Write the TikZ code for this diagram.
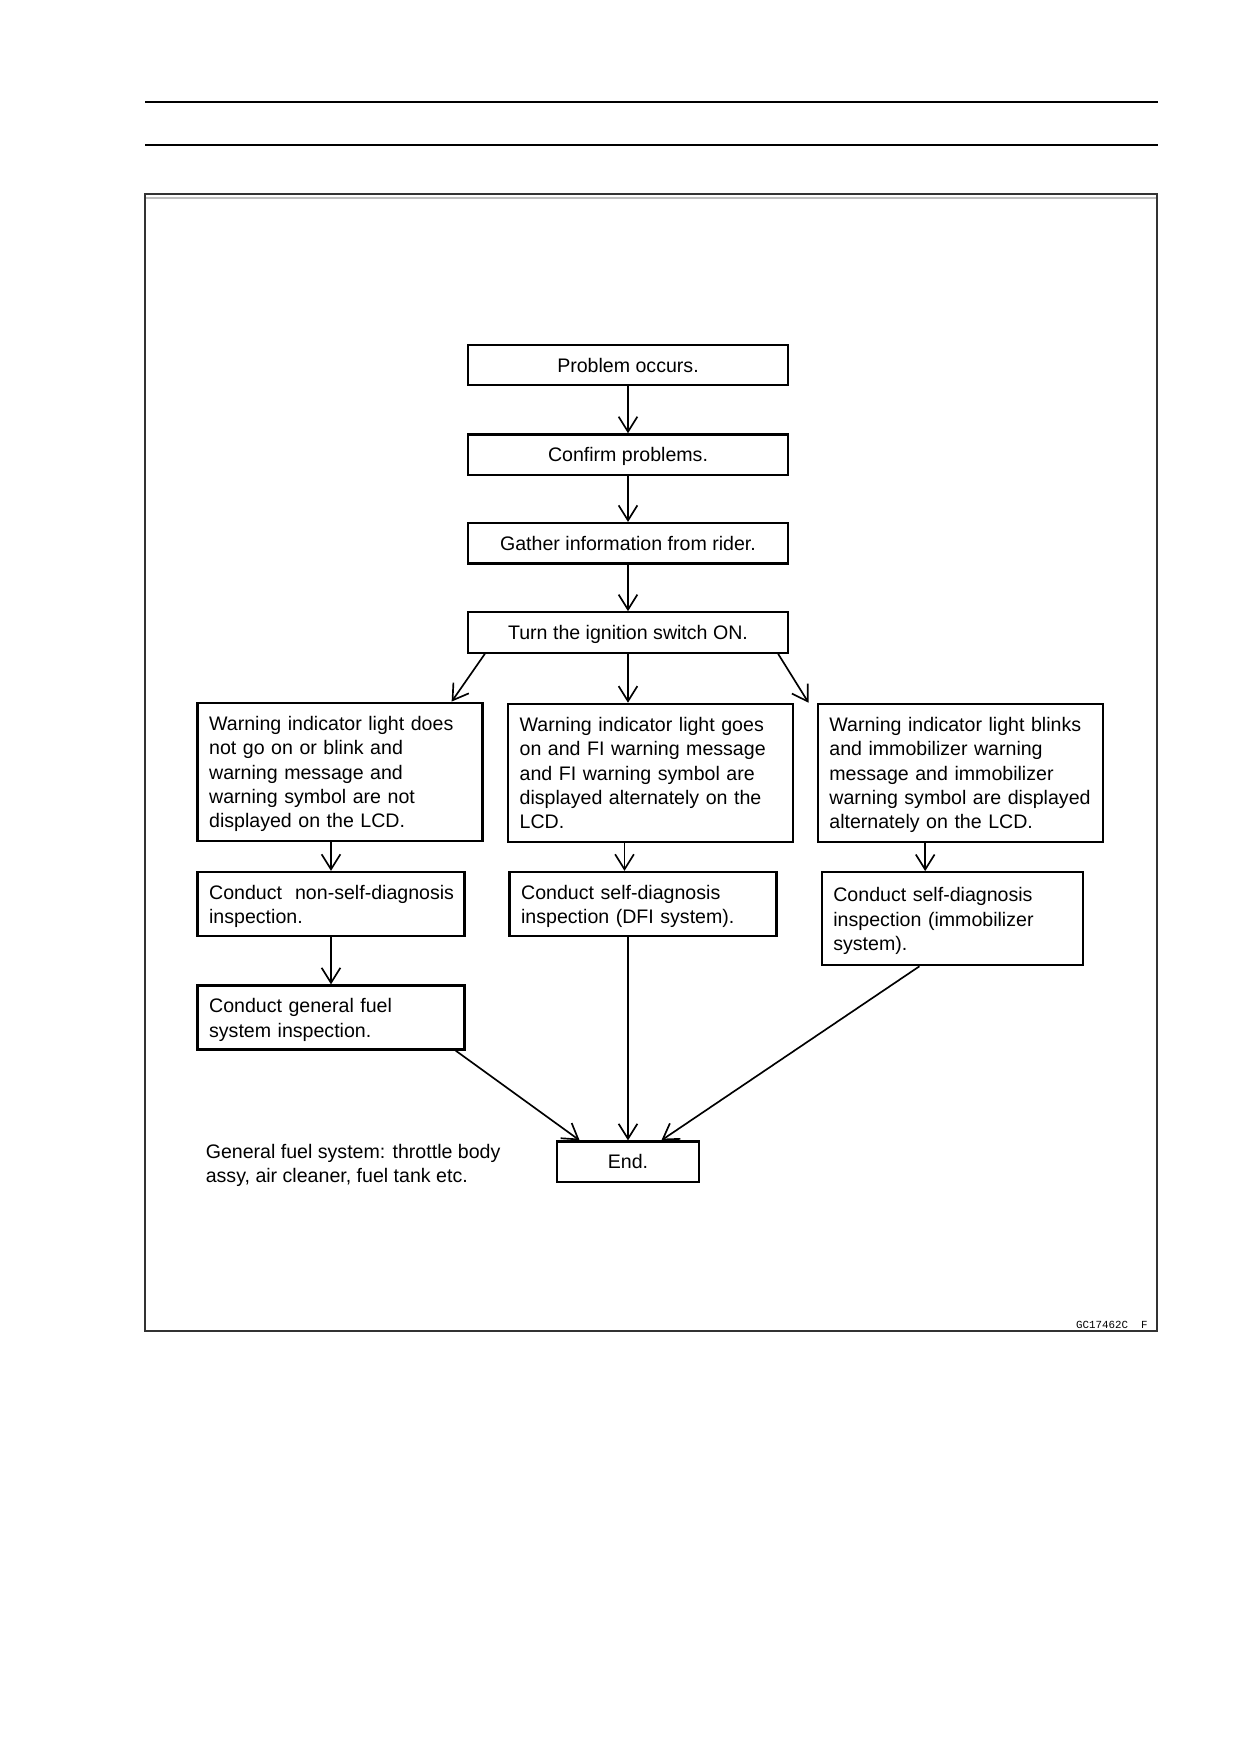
\documentclass[tikz,border=0pt]{standalone}
\usepackage{fontspec}
\setmainfont{Liberation Sans}
\newfontfamily\codefont{Liberation Mono}
\usetikzlibrary{arrows.meta,calc}
\newcommand{\boxlines}[1]{\raisebox{-1.2pt}[\height][\depth]{\begin{tabular}{@{}l@{}}#1\end{tabular}}}
\begin{document}
\begin{tikzpicture}[x=0.48pt,y=-0.48pt,
  basefont/.style={font=\fontsize{9.4pt}{11.7pt}\selectfont},
  box/.style={draw,line width=1.1pt,inner sep=0pt,basefont},
  topbox/.style={box,minimum width=153.6pt,minimum height=19.4pt,align=center,text height=6.8pt,text depth=0pt},
  tbox/.style={box,align=left,inner xsep=5.6pt,text width=#1},
  arr/.style={line width=0.8pt,-{Straight Barb[length=7.2pt,width=9pt]}}]
\fill[white] (0,0) rectangle (1247,1760);
\useasboundingbox (0,0) rectangle (1247,1760);
% header rules and frame
\draw[line width=1pt] (145,102) -- (1158,102);
\draw[line width=1pt] (145,145) -- (1158,145);
\draw[line width=0.7pt,black!80] (145,194) rectangle (1157,1331);
\draw[line width=0.8pt,black!25] (146,198) -- (1156,198);
% nodes
\node[topbox] (p1) at (628,365) {Problem occurs.};
\node[topbox] (p2) at (628,454.6) {Confirm problems.};
\node[topbox] (p3) at (628,543.3) {Gather information from rider.};
\node[topbox] (p4) at (628,632.5) {Turn the ignition switch ON.};
\node[tbox=125.6pt,minimum height=66.2pt] (lw) at (340,771.7)
  {\boxlines{Warning indicator light does\\not go on or blink and\\warning message and\\warning symbol are not\\displayed on the LCD.}};
\node[tbox=125.6pt,minimum height=66.2pt] (mw) at (650.5,772.8)
  {\boxlines{Warning indicator light goes\\on and FI warning message\\and FI warning symbol are\\displayed alternately on the\\LCD.}};
\node[tbox=125.6pt,minimum height=66.2pt] (rw) at (960.2,772.8)
  {\boxlines{Warning indicator light blinks\\and immobilizer warning\\message and immobilizer\\warning symbol are displayed\\alternately on the LCD.}};
\node[tbox=117pt,minimum height=30.7pt] (ns) at (331,904)
  {\boxlines{Conduct\ \ non-self-diagnosis\\inspection.}};
\node[tbox=117pt,minimum height=30.7pt] (dfi) at (643,904)
  {\boxlines{Conduct self-diagnosis\\inspection (DFI system).}};
\node[tbox=114.3pt,minimum height=44.6pt] (im) at (952.4,918.7)
  {\boxlines{Conduct self-diagnosis\\inspection (immobilizer\\system).}};
\node[tbox=117pt,minimum height=30.7pt] (gen) at (331,1017.5)
  {\boxlines{Conduct general fuel\\system inspection.}};
\node[box,minimum width=68.4pt,minimum height=19.4pt,text height=6.8pt,text depth=0pt] (end) at (628,1161.7) {End.};
\node[anchor=west,inner sep=0pt,align=left,font=\fontsize{9.4pt}{11.3pt}\selectfont] (note) at (205.4,1165.5)
  {General fuel system: throttle body\\assy, air cleaner, fuel tank etc.};
\node[inner sep=0pt,font=\codefont\fontsize{5.2pt}{6pt}\selectfont] (code) at (1111.8,1325) {GC17462C\ \ F};
% connectors
\draw[arr] (p1) -- (p2);
\draw[arr] (p2) -- (p3);
\draw[arr] (p3) -- (p4);
\coordinate (l1) at ($(p4.south west)+(18,0)$);
\coordinate (l2) at ($(lw.north east)+(-32,0)$);
\draw[arr] (l1) -- (l2);
\draw[arr] (p4.south) -- (p4.south |- mw.north);
\coordinate (r1) at ($(p4.south east)+(-11,0)$);
\coordinate (r2) at ($(rw.north west)+(-8,0)$);
\draw[arr] (r1) -- (r2);
\draw[arr] (ns.north |- lw.south) -- (ns.north);
\coordinate (m1) at ($(mw.south)+(-26,0)$);
\draw[arr] (m1) -- (m1 |- dfi.north);
\coordinate (q1) at ($(rw.south)+(-35,0)$);
\draw[arr] (q1) -- (q1 |- im.north);
\draw[arr] (ns) -- (gen);
\coordinate (g1) at ($(gen.south east)+(-10,0)$);
\coordinate (g2) at ($(end.north west)+(24,0)$);
\draw[arr] (g1) -- (g2);
\draw[arr] (dfi.south -| end.north) -- (end.north);
\coordinate (i1) at ($(im.south)+(-33,0)$);
\coordinate (i2) at ($(end.north east)+(-39,0)$);
\draw[arr] (i1) -- (i2);
\end{tikzpicture}
\end{document}
